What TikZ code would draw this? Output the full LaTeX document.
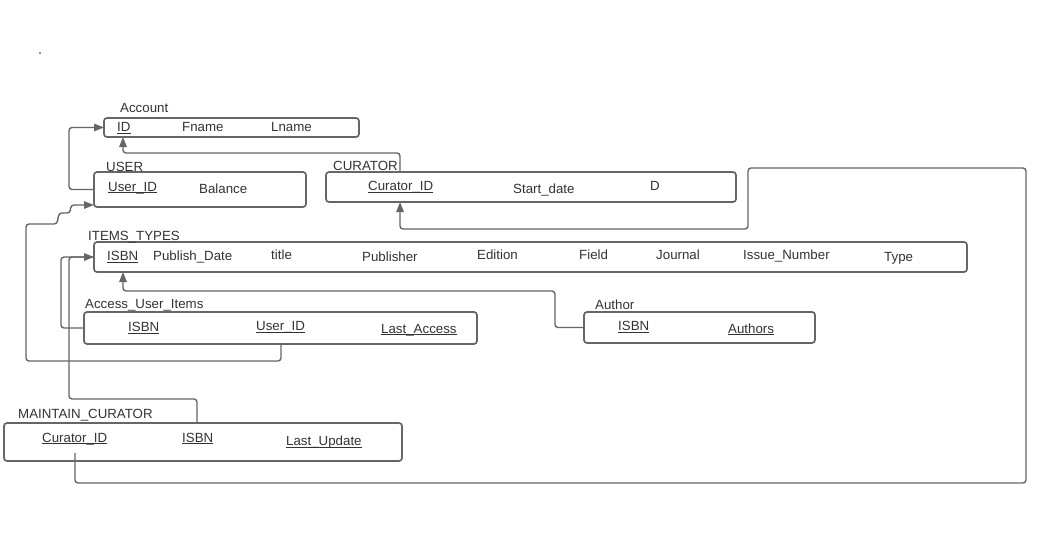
\documentclass[tikz,border=0pt]{standalone}
\usepackage{fontspec}
\setmainfont{Liberation Sans}
\usetikzlibrary{arrows.meta}
\definecolor{linec}{HTML}{666666}
\definecolor{txtc}{HTML}{333333}
\newsavebox\ulbox
\newcommand\ulw[1]{\sbox\ulbox{#1}\rlap{\rule[-2.3pt]{\wd\ulbox}{0.9pt}}\usebox\ulbox}
\begin{document}
\begin{tikzpicture}[x=1pt,y=-1pt,
  ebox/.style={draw=linec, line width=1.7pt, rounded corners=3pt, fill=white, inner sep=0pt, outer sep=0pt, anchor=north west},
  txt/.style={font=\fontsize{13.3}{16}\selectfont, text=txtc, inner sep=0pt, anchor=base west},
  conn/.style={draw=linec, line width=1.4pt, rounded corners=3pt},
  arr/.style={conn, -{Triangle[length=10pt,width=7.5pt]}}]
\useasboundingbox (0,0) rectangle (1050,539);
\fill[blue] (40,53) circle (0.9pt);
% boxes
\node[ebox, minimum width=255pt, minimum height=19pt] (account) at (104,118) {};
\node[ebox, minimum width=212pt, minimum height=35pt] (user) at (94,172) {};
\node[ebox, minimum width=410pt, minimum height=30pt] (curator) at (326,172) {};
\node[ebox, minimum width=873pt, minimum height=30pt] (items) at (94,242) {};
\node[ebox, minimum width=393pt, minimum height=32pt] (access) at (84,312) {};
\node[ebox, minimum width=231pt, minimum height=31pt] (author) at (584,312) {};
\node[ebox, minimum width=398pt, minimum height=38pt] (maint) at (4,423) {};
% labels
\node[txt] (lacc) at (120,112) {Account};
\node[txt] (luser) at (106,171) {USER};
\node[txt] (lcur) at (333,170.5) {CURATOR};
\node[txt] (litems) at (88,240) {ITEMS\_TYPES};
\node[txt] (laccess) at (85,308) {Access\_User\_Items};
\node[txt] (lauthor) at (595,309) {Author};
\node[txt] (lmaint) at (18,418) {MAINTAIN\_CURATOR};
% fields
\node[txt] (fid) at (117,131.5) {\ulw{ID}};
\node[txt] (ffname) at (182,131.5) {Fname};
\node[txt] (flname) at (271,131.5) {Lname};
\node[txt] (fuid) at (108,191) {\ulw{User\_ID}};
\node[txt] (fbal) at (199,193.5) {Balance};
\node[txt] (fcid) at (368,190.5) {\ulw{Curator\_ID}};
\node[txt] (fsd) at (513,193) {Start\_date};
\node[txt] (fd) at (650,190.5) {D};
\node[txt] (fisbn) at (107,260.5) {\ulw{ISBN}};
\node[txt] (fpd) at (153,260.5) {Publish\_Date};
\node[txt] (ftitle) at (271,259.5) {title};
\node[txt] (fpub) at (362,261.5) {Publisher};
\node[txt] (fed) at (477,259.5) {Edition};
\node[txt] (ffield) at (579,259.5) {Field};
\node[txt] (fjour) at (656,259.5) {Journal};
\node[txt] (fiss) at (743,259.5) {Issue\_Number};
\node[txt] (ftype) at (884,261) {Type};
\node[txt] (faisbn) at (128,331.5) {\ulw{ISBN}};
\node[txt] (fauid) at (256,330.5) {\ulw{User\_ID}};
\node[txt] (fla) at (381,333) {\ulw{Last\_Access}};
\node[txt] (fauisbn) at (618,330.5) {\ulw{ISBN}};
\node[txt] (fauth) at (728,333) {\ulw{Authors}};
\node[txt] (fmcid) at (42,442) {\ulw{Curator\_ID}};
\node[txt] (fmisbn) at (182,442) {\ulw{ISBN}};
\node[txt] (fmlu) at (286,445.5) {\ulw{Last\_Update}};
% helper coordinates
\coordinate (x400) at (400,0);
\coordinate (x123) at (123,0);
\coordinate (x281) at (281,0);
\coordinate (x197) at (197,0);
\coordinate (y205) at (0,205);
\coordinate (mcstart) at (75,453);
% connectors
\draw[arr] (user.west) -- ++(-25,0) |- (account.west);
\draw[arr] (curator.north -| x400) -- (400,153) -| (account.south -| x123);
\draw[arr] (mcstart) -- (75,483) -- (1026,483) -- (1026,168) -- (748,168) -- (748,229) -- (400,229) -- (curator.south -| x400);
\draw[arr] (access.south -| x281) -- (281,361) -- (26,361) -- (26,224) -- (57,224) -- (59,213) -- (70,213) -- (71,205) -- (user.west |- y205);
\draw[conn] (maint.north -| x197) -- (197,399) -- (69,399) -- (69,257) -- (items.west);
\draw[arr] (access.west) -- ++(-23,0) |- (items.west);
\draw[arr] (author.west) -- ++(-29,0) -- (555,291) -| (items.south -| x123);
\end{tikzpicture}
\end{document}
